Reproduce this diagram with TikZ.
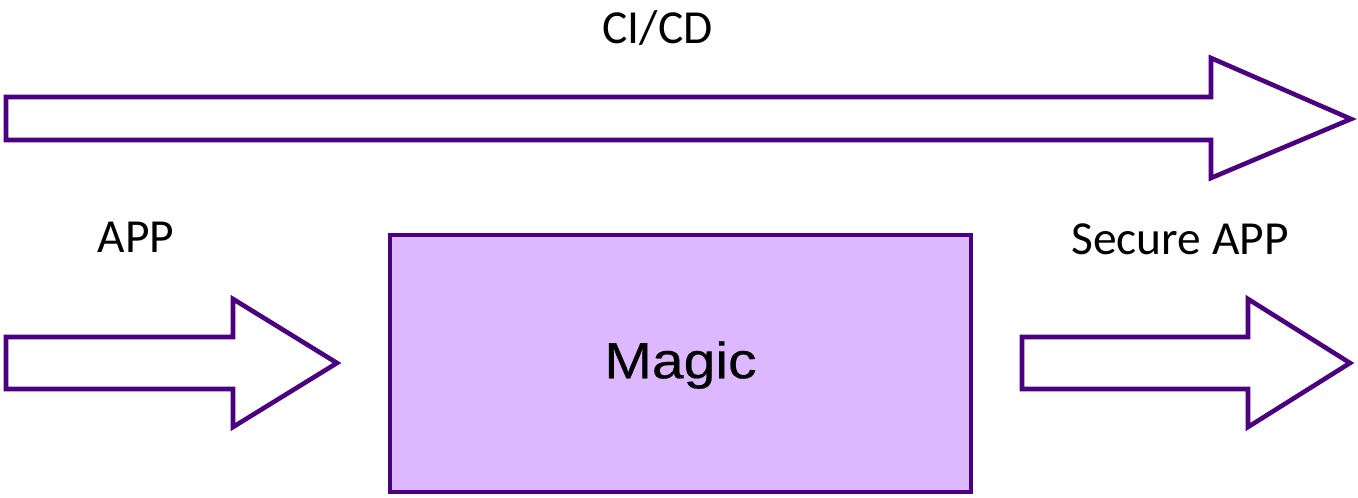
\documentclass[tikz,border=0pt]{standalone}
\usepackage{fontspec}
\setmainfont{Carlito}
\newfontfamily\magicfont[FakeStretch=1.12,FakeBold=0.4]{Liberation Sans}
\usepackage{xcolor}
\usepackage{tikz}
\usetikzlibrary{positioning}

\definecolor{flowline}{HTML}{4B0082}
\definecolor{magicfill}{HTML}{DDB8FF}

\tikzset{
    fatarrow/.style={draw=flowline, line width=2.6pt, fill=white, line join=miter},
    magicbox/.style={draw=flowline, line width=2.6pt, fill=magicfill,
        minimum width=11.62cm, minimum height=5.14cm,
        text height=21pt, text depth=4.2pt,
        font=\magicfont\fontsize{29}{34}\selectfont},
    lbl/.style={inner sep=0pt, anchor=base, font=\fontsize{27}{31}\selectfont}
}

\begin{document}
\begin{tikzpicture}[x=0.02cm, y=-0.02cm]
    \useasboundingbox (0,0) rectangle (1358,497);

    % pipeline arrow across the top
    \draw[fatarrow] (6,97) -- (1211,97) -- (1211,58) -- (1351,119)
        -- (1211,178) -- (1211,140) -- (6,140) -- cycle;
    \node[lbl] (cicd) at (657.5,43) {CI/CD};

    % input arrow
    \draw[fatarrow] (6,337) -- (233,337) -- (233,299) -- (337,363)
        -- (233,427) -- (233,389) -- (6,389) -- cycle;
    \node[lbl] (app) at (136,252.7) {APP};

    % the box in the middle
    \node[magicbox] (magic) at (680.5,363.5) {Magic};

    % output arrow
    \draw[fatarrow] (1022,337) -- (1248,337) -- (1248,299) -- (1350,363)
        -- (1248,427) -- (1248,389) -- (1022,389) -- cycle;
    \node[lbl] (secure) at (1180,254) {Secure APP};
\end{tikzpicture}
\end{document}
